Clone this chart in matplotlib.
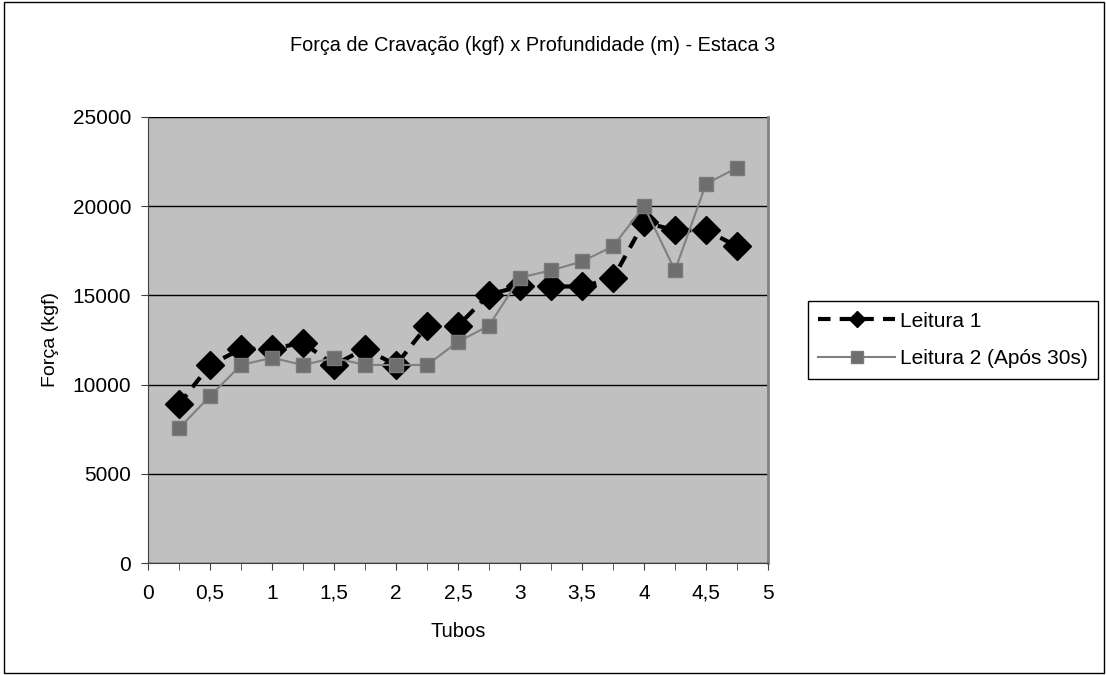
import matplotlib.pyplot as plt
from matplotlib.patches import Rectangle
from matplotlib.ticker import MultipleLocator, FuncFormatter

tubos = [0.25, 0.5, 0.75, 1.0, 1.25, 1.5, 1.75, 2.0, 2.25, 2.5,
         2.75, 3.0, 3.25, 3.5, 3.75, 4.0, 4.25, 4.5, 4.75]
leitura1 = [8900, 11100, 12000, 12000, 12350, 11100, 12000, 11100, 13300, 13300,
            15050, 15500, 15500, 15500, 15950, 19100, 18650, 18650, 17750]
leitura2 = [7550, 9350, 11100, 11500, 11100, 11500, 11100, 11100, 11100, 12400,
            13300, 16000, 16400, 16900, 17750, 20000, 16400, 21250, 22150]

plt.rcParams['font.family'] = ['Liberation Sans', 'DejaVu Sans']

fig = plt.figure(figsize=(11.06, 6.75), dpi=100)
fig.patches.append(Rectangle((0.004, 0.003), 0.994, 0.994, transform=fig.transFigure,
                             fill=False, edgecolor='black', linewidth=1))

ax = fig.add_axes([0.1338, 0.1659, 0.5606, 0.6608])
ax.set_facecolor('#C0C0C0')

ax.plot(tubos, leitura1, color='black', linestyle=(0, (3, 2.2)), linewidth=3,
        marker='D', markersize=14.5, markerfacecolor='black', markeredgecolor='black',
        label='Leitura 1', zorder=3)
ax.plot(tubos, leitura2, color='#808080', linewidth=1.5,
        marker='s', markersize=10, markerfacecolor='#6E6E6E', markeredgecolor='#7A7A7A',
        label='Leitura 2 (Após 30s)', zorder=4)

ax.set_xlim(0, 5)
ax.set_ylim(0, 25000)
ax.xaxis.set_major_locator(MultipleLocator(0.5))
ax.xaxis.set_minor_locator(MultipleLocator(0.25))
ax.yaxis.set_major_locator(MultipleLocator(5000))
ax.xaxis.set_major_formatter(FuncFormatter(lambda v, p: ('%g' % v).replace('.', ',')))
ax.grid(axis='y', color='black', linewidth=1)
ax.set_axisbelow(True)
ax.tick_params(axis='both', which='both', direction='out', labelsize=15, color='#404040')
ax.tick_params(axis='both', which='major', length=5)
ax.tick_params(axis='x', which='minor', length=5)
ax.tick_params(axis='x', which='major', pad=10)
ax.tick_params(axis='y', which='major', pad=7)

for side in ['left', 'bottom']:
    ax.spines[side].set_color('#404040')
ax.spines['top'].set_visible(False)
ax.spines['right'].set_color('#808080')
ax.spines['right'].set_linewidth(2)

ax.set_xlabel('Tubos', fontsize=14.5, labelpad=14)
ax.set_ylabel('Força (kgf)', fontsize=14, labelpad=10)
fig.text(0.482, 0.933, 'Força de Cravação (kgf) x Profundidade (m) - Estaca 3',
         ha='center', va='center', fontsize=14.3)

leg = ax.legend(loc='center left', bbox_to_anchor=(1.0645, 0.5), fontsize=15,
                frameon=True, fancybox=False, framealpha=1, edgecolor='black',
                handlelength=3.7, borderpad=0.5, labelspacing=0.9,
                handletextpad=0.2, borderaxespad=0)
leg.get_frame().set_linewidth(1)
leg.legend_handles[0].set_markersize(8)
leg.legend_handles[1].set_markersize(8)

fig.savefig('out.png', dpi=100)
